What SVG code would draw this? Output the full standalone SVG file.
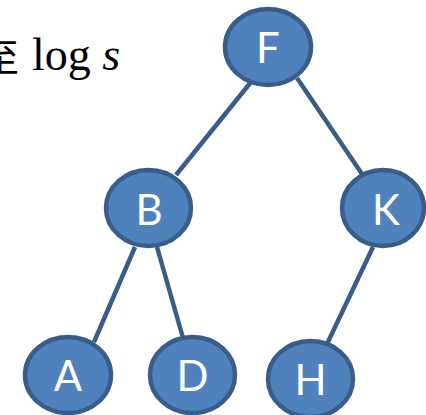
<svg xmlns="http://www.w3.org/2000/svg" width="426" height="415" viewBox="0 0 426 415">
<style>
.edge{stroke:#385D8A;stroke-width:4.5;fill:none}
.node ellipse{fill:#4F81BD;stroke:#385D8A;stroke-width:4.5}
.node text{fill:#fff;font-family:Lato,"Open Sans",sans-serif;font-size:42px;text-anchor:middle}
.formula{font-family:"Liberation Serif",serif;font-size:46px;fill:#000}
</style>
<rect width="426" height="415" fill="#fff"/>
<text x="-19" y="71" font-family="'Noto Sans CJK SC',sans-serif" font-size="38" fill="#000">至</text>
<text class="formula" x="32" y="70">log <tspan font-style="italic">s</tspan></text>
<g id="connectors">
<line class="edge" x1="251" y1="82" x2="176" y2="175"/>
<line class="edge" x1="297" y1="78" x2="362" y2="174"/>
<line class="edge" x1="135" y1="247" x2="94" y2="342"/>
<line class="edge" x1="157" y1="247" x2="183" y2="338"/>
<line class="edge" x1="373" y1="247" x2="327" y2="344"/>
</g>
<g id="F" class="node"><ellipse cx="268" cy="47" rx="43" ry="38"/><text x="268" y="63">F</text></g>
<g id="B" class="node"><ellipse cx="148.5" cy="208" rx="42.5" ry="38"/><text x="149" y="225">B</text></g>
<g id="K" class="node"><ellipse cx="383" cy="208" rx="41" ry="38"/><text x="386" y="225">K</text></g>
<g id="A" class="node"><ellipse cx="68" cy="375" rx="43" ry="38"/><text x="68" y="391">A</text></g>
<g id="D" class="node"><ellipse cx="192.5" cy="375" rx="42.5" ry="38"/><text x="192.5" y="391">D</text></g>
<g id="H" class="node"><ellipse cx="310.5" cy="379" rx="42.5" ry="38"/><text x="310.5" y="395">H</text></g>
</svg>
